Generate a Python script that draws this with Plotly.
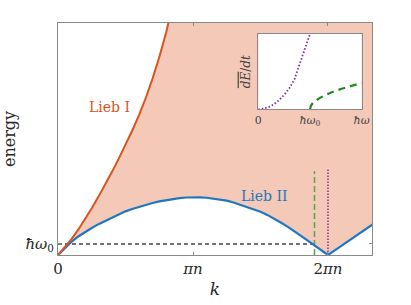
import plotly.graph_objects as go

# ---- data (k in units of pi*n, energy in units of hbar*omega0) ----
k_range = [0, 2.326]
E_range = [0, 21.06]
E_fill_top = 26.0

lieb1_k = [0, 0.05, 0.10, 0.15, 0.20, 0.25, 0.30, 0.35, 0.40, 0.45, 0.50,
           0.55, 0.60, 0.65, 0.70, 0.75, 0.80, 0.85, 0.90]
lieb1_E = [0, 0.70, 1.45, 2.30, 3.25, 4.25, 5.30, 6.40, 7.55, 8.75, 9.98,
           11.3, 12.7, 14.25, 16.0, 17.95, 20.15, 22.6, 25.3]

lieb2_k = [0, 0.05, 0.10, 0.15, 0.20, 0.25, 0.30, 0.35, 0.40, 0.45, 0.50,
           0.55, 0.60, 0.65, 0.70, 0.75, 0.80, 0.85, 0.90, 0.95, 1.00,
           1.05, 1.10, 1.15, 1.20, 1.25, 1.30, 1.35, 1.40, 1.45, 1.50,
           1.55, 1.60, 1.65, 1.70, 1.75, 1.80, 1.85, 1.90, 1.95, 2.00,
           2.05, 2.10, 2.15, 2.20, 2.25, 2.30, 2.35]
lieb2_E = [0, 0.63, 1.20, 1.68, 2.10, 2.45, 2.80, 3.10, 3.40, 3.70, 3.96,
           4.18, 4.38, 4.56, 4.72, 4.87, 4.99, 5.09, 5.17, 5.22, 5.25,
           5.24, 5.20, 5.13, 5.04, 4.93, 4.76, 4.55, 4.37, 4.17, 3.93,
           3.64, 3.31, 2.95, 2.57, 2.18, 1.74, 1.30, 0.86, 0.43, 0,
           0.42, 0.85, 1.27, 1.70, 2.12, 2.53, 2.93]

hw0 = 1.0
k_green = 1.90      # where Lieb II crosses hbar*omega0
E_green_top = 7.6
k_purple = 2.0
E_purple_top = 7.9

lieb1_label = (0.385, 13.4)
lieb2_label = (1.533, 5.35)

# inset: dE/dt vs hbar*omega
inset_x_range = [0, 2]
inset_y_range = [0, 1]
purple_x = [0, 0.1, 0.2, 0.3, 0.4, 0.5, 0.6, 0.7, 0.8, 0.9, 1.0, 1.05]
purple_y = [0, 0.01, 0.03, 0.065, 0.12, 0.19, 0.28, 0.40, 0.60, 0.80, 1.0, 1.1]
green_x = [1.0, 1.02, 1.05, 1.1, 1.2, 1.4, 1.6, 1.8, 2.0]
green_y = [0, 0.05, 0.08, 0.11, 0.155, 0.22, 0.27, 0.31, 0.35]

x_ticks = [0, 1, 2]
x_ticktext = ["0", "<i>πn</i>", "2<i>πn</i>"]
y_ticks = [hw0]
y_ticktext = ["<i>ħω</i><sub>0</sub>"]
inset_ticks = [0, 1, 2]
inset_ticktext = ["0", "<i>ħω</i><sub>0</sub>", "<i>ħω</i>"]

# ---- styles ----
BLUE = "#1f77c0"
RED = "#d9531e"
FILL = "#f4c9b8"
GREEN = "#5aa84c"
GREEN_IN = "#1f8a1f"
PURPLE = "#7e2f8e"
FRAME = "#8a8a8a"
SERIF = "DejaVu Serif, Liberation Serif, serif"

fig = go.Figure()

# shaded region: between Lieb II and top
fig.add_trace(go.Scatter(x=[lieb2_k[0], lieb2_k[-1]], y=[E_fill_top, E_fill_top],
                         mode="lines", line=dict(width=0), hoverinfo="skip",
                         showlegend=False))
fig.add_trace(go.Scatter(x=lieb2_k, y=lieb2_E, mode="lines", line=dict(width=0),
                         fill="tonexty", fillcolor=FILL, hoverinfo="skip",
                         showlegend=False))
# white region left of Lieb I
fig.add_trace(go.Scatter(x=lieb1_k, y=lieb1_E, mode="lines", line=dict(width=0),
                         fill="tozerox", fillcolor="white", hoverinfo="skip",
                         showlegend=False))

# dashed hbar*omega0 line
fig.add_trace(go.Scatter(x=[0, k_green], y=[hw0, hw0], mode="lines",
                         line=dict(color="#444444", width=1.3, dash="4px,3px"),
                         showlegend=False))
# green / purple verticals
fig.add_trace(go.Scatter(x=[k_green, k_green], y=[0, E_green_top], mode="lines",
                         line=dict(color=GREEN, width=1.6, dash="6px,3px"),
                         showlegend=False))
fig.add_trace(go.Scatter(x=[k_purple, k_purple], y=[0, E_purple_top], mode="lines",
                         line=dict(color=PURPLE, width=1.4, dash="1.5px,1.5px"),
                         showlegend=False))

# curves
fig.add_trace(go.Scatter(x=lieb2_k, y=lieb2_E, mode="lines",
                         line=dict(color=BLUE, width=2.2), showlegend=False))
fig.add_trace(go.Scatter(x=lieb1_k, y=lieb1_E, mode="lines",
                         line=dict(color=RED, width=2.0), showlegend=False))

# inset curves
fig.add_trace(go.Scatter(x=purple_x, y=purple_y, mode="lines", xaxis="x2", yaxis="y2",
                         line=dict(color=PURPLE, width=1.8, dash="1.5px,2px"),
                         showlegend=False))
fig.add_trace(go.Scatter(x=green_x, y=green_y, mode="lines", xaxis="x2", yaxis="y2",
                         line=dict(color=GREEN_IN, width=2.2, dash="7px,5px"),
                         showlegend=False))

fig.add_annotation(x=lieb1_label[0], y=lieb1_label[1], text="Lieb I", showarrow=False,
                   font=dict(family=SERIF, size=14, color=RED))
fig.add_annotation(x=lieb2_label[0], y=lieb2_label[1], text="Lieb II", showarrow=False,
                   font=dict(family=SERIF, size=14, color=BLUE))

# inset background
fig.add_shape(type="rect", xref="x2 domain", yref="y2 domain", x0=0, x1=1, y0=0, y1=1,
              fillcolor="white", line=dict(width=0), layer="below")

fig.update_layout(
    width=411, height=305,
    margin=dict(l=58, r=39, t=23, b=50, autoexpand=False),
    paper_bgcolor="white", plot_bgcolor="white",
    font=dict(family=SERIF, size=14, color="#262626"),
    xaxis=dict(range=k_range, tickvals=x_ticks, ticktext=x_ticktext,
               automargin=False,
               showgrid=False, zeroline=False, showline=True, linecolor=FRAME,
               linewidth=1, mirror="ticks", ticks="inside", ticklen=3,
               tickcolor=FRAME, tickfont=dict(size=15),
               title=dict(text="<i>k</i>", font=dict(size=17), standoff=6)),
    yaxis=dict(range=E_range, tickvals=y_ticks, ticktext=y_ticktext,
               automargin=False,
               showgrid=False, zeroline=False, showline=True, linecolor=FRAME,
               linewidth=1, mirror="ticks", ticks="inside", ticklen=3,
               tickcolor=FRAME, tickfont=dict(size=15),
               title=dict(text="energy", font=dict(size=16), standoff=10)),
    xaxis2=dict(domain=[0.638, 0.967], anchor="y2", range=inset_x_range,
                automargin=False,
                tickvals=inset_ticks, ticktext=inset_ticktext, ticks="",
                showgrid=False, zeroline=False, showline=True, linecolor=FRAME,
                linewidth=1, mirror=True, tickfont=dict(size=11, color="#444444")),
    yaxis2=dict(domain=[0.628, 0.953], anchor="x2", range=inset_y_range,
                automargin=False,
                showticklabels=False, ticks="",
                showgrid=False, zeroline=False, showline=True, linecolor=FRAME,
                linewidth=1, mirror=True,
                title=dict(text="<span style='text-decoration:overline'><i>dE</i></span>/<i>dt</i>",
                           font=dict(size=12, color="#444444"), standoff=4)),
)

fig.write_html("out.html", config={"displayModeBar": False},
               post_script="document.body.style.margin='0px';document.body.style.padding='0px';")
